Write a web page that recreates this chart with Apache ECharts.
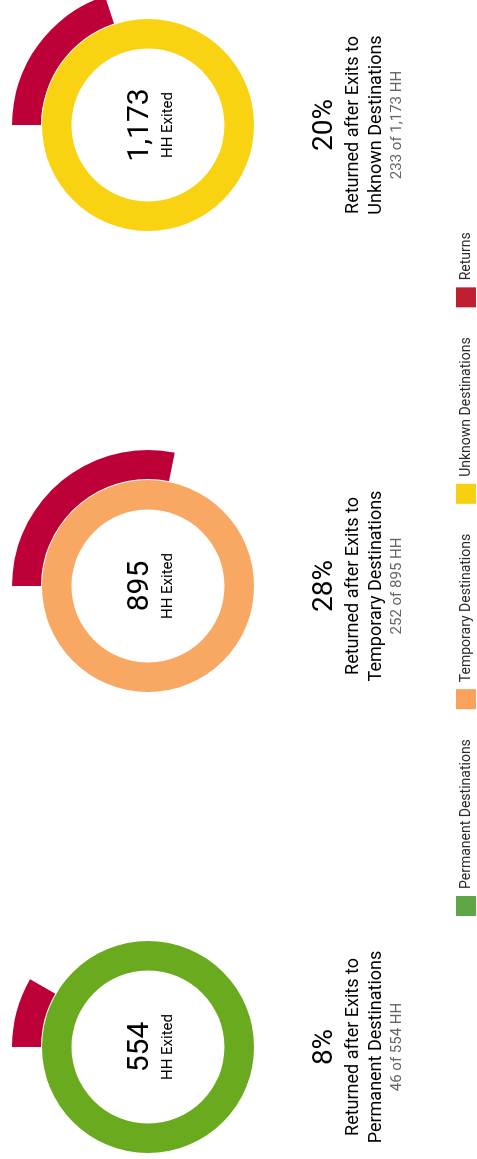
<!DOCTYPE html>
<html>
<head>
<meta charset="utf-8">
<script src="https://cdn.jsdelivr.net/npm/echarts@6/dist/echarts.min.js"></script>
<style>
html,body{margin:0;padding:0;width:477px;height:1159px;overflow:hidden;background:#fff;}
#chart{position:absolute;left:0;top:0;width:1159px;height:477px;transform-origin:0 0;transform:translateY(1159px) rotate(-90deg);}
</style>
</head>
<body>
<div id="chart"></div>
<script>
// ---- data ----
var categories = ['Permanent Destinations', 'Temporary Destinations', 'Unknown Destinations'];
var exited = [554, 895, 1173];
var returned = [46, 252, 233];
var legendLabels = ['Permanent Destinations', 'Temporary Destinations', 'Unknown Destinations', 'Returns'];

// ---- style ----
var ringColors = ['#6aaa1e', '#f9a863', '#f9d312'];
var legendColors = ['#5fa644', '#f9a25d', '#f7d10f', '#be1e2d'];
var returnColor = '#be0039';
var centersX = [112, 573, 1034];
var centerY = 148;
var FONT = 'Roboto, "Noto Sans", sans-serif';

function fmt(n){ return n.toLocaleString('en-US'); }

var series = [];
var graphics = [];
categories.forEach(function(cat, i){
  var cx = centersX[i];
  series.push({
    type: 'pie', silent: true, animation: false,
    center: [cx, centerY], radius: [76.5, 106],
    label: {show: false}, labelLine: {show: false},
    data: [{name: cat, value: exited[i], itemStyle: {color: ringColors[i]}}]
  });
  series.push({
    type: 'pie', silent: true, animation: false,
    center: [cx, centerY], radius: [107, 136],
    startAngle: 90, clockwise: true,
    label: {show: false}, labelLine: {show: false},
    data: [
      {name: 'Returns', value: returned[i], itemStyle: {color: returnColor}},
      {name: 'rest', value: exited[i] - returned[i], itemStyle: {color: 'rgba(0,0,0,0)'}}
    ]
  });
  var pct = Math.round(returned[i] / exited[i] * 100);
  graphics.push(
    {type:'text', x: cx, y: 140.5, silent:true, style:{text: fmt(exited[i]), fill:'#000', font:'30px ' + FONT, align:'center', verticalAlign:'middle'}},
    {type:'text', x: cx, y: 168, silent:true, style:{text: 'HH Exited', fill:'#000', font:'15px ' + FONT, align:'center', verticalAlign:'middle'}},
    {type:'text', x: cx, y: 324.5, silent:true, style:{text: pct + '%', fill:'#000', font:'28px ' + FONT, align:'center', verticalAlign:'middle'}},
    {type:'text', x: cx, y: 353, silent:true, style:{text: 'Returned after Exits to', fill:'#000', font:'18px ' + FONT, align:'center', verticalAlign:'middle'}},
    {type:'text', x: cx, y: 376, silent:true, style:{text: cat, fill:'#000', font:'18px ' + FONT, align:'center', verticalAlign:'middle'}},
    {type:'text', x: cx, y: 397, silent:true, style:{text: returned[i] + ' of ' + fmt(exited[i]) + ' HH', fill:'#666', font:'15px ' + FONT, align:'center', verticalAlign:'middle'}}
  );
});

var chart = echarts.init(document.getElementById('chart'), null, {width: 1159, height: 477});
chart.setOption({
  backgroundColor: '#fff',
  animation: false,
  legend: {
    top: 456, left: 243, padding: 0,
    itemWidth: 20, itemHeight: 20, itemGap: 30,
    icon: 'rect',
    selectedMode: false,
    textStyle: {fontFamily: FONT, fontSize: 14, color: '#2b2b2b', padding: [0,0,0,2]},
    data: legendLabels.map(function(n, k){ return {name: n, itemStyle: {color: legendColors[k]}}; })
  },
  graphic: graphics,
  series: series
});
</script>
</body>
</html>
